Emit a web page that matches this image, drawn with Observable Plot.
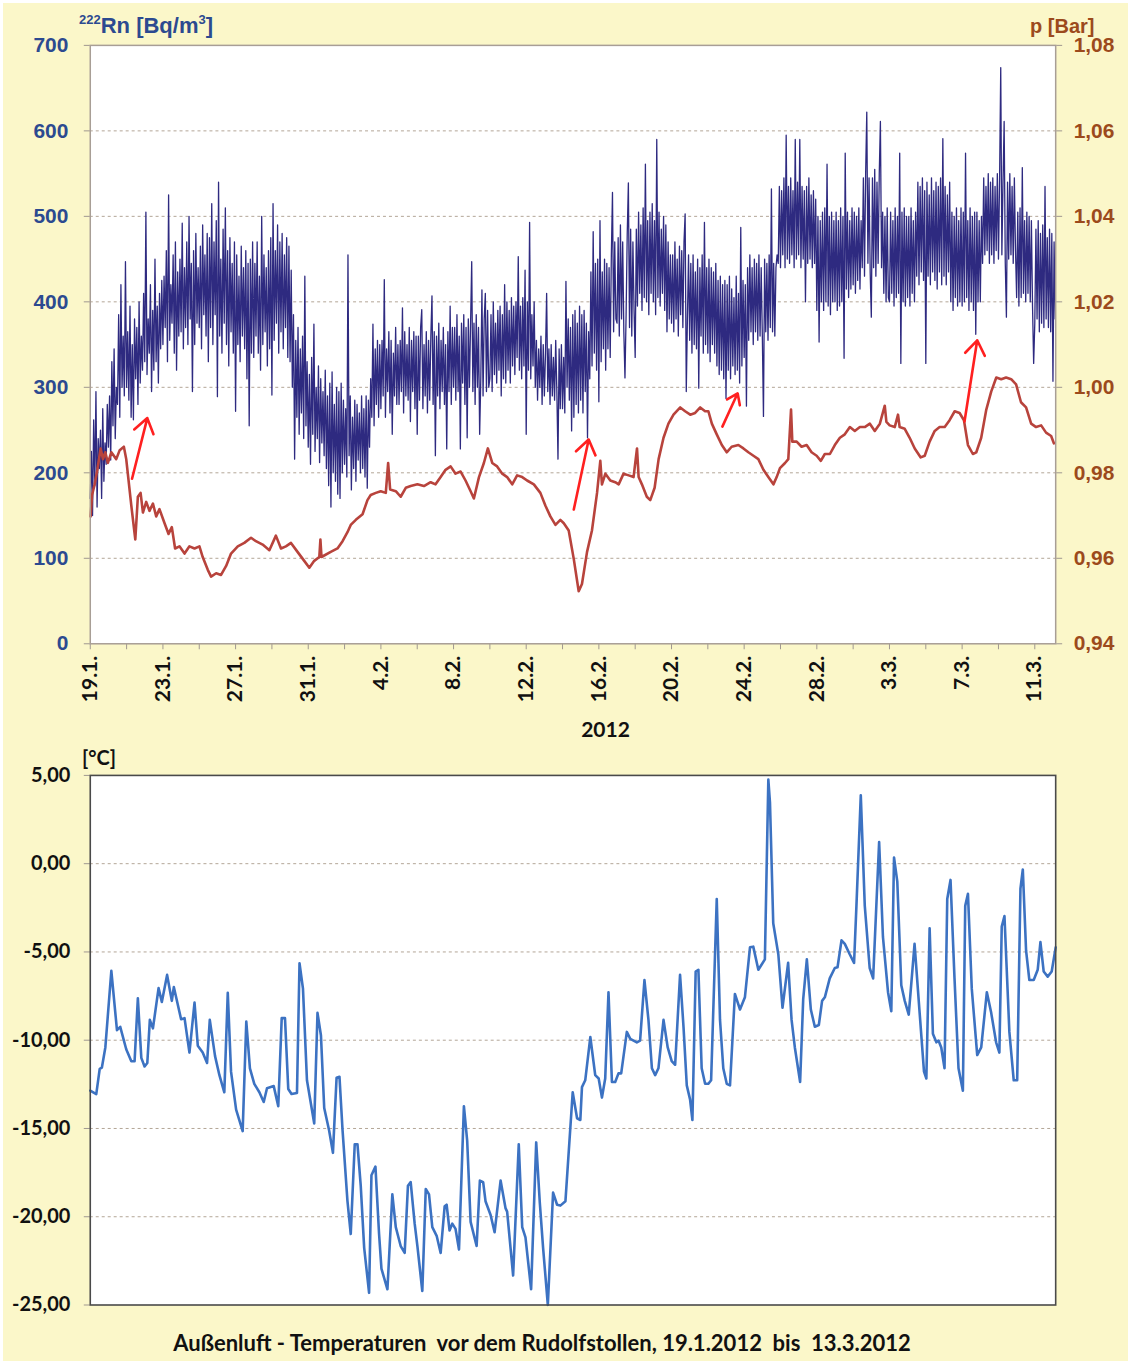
<!DOCTYPE html>
<html>
<head>
<meta charset="utf-8">
<script src="https://cdn.jsdelivr.net/npm/d3@7"></script>
<script src="https://cdn.jsdelivr.net/npm/@observablehq/plot@0.6"></script>
<style>
  html, body { margin: 0; padding: 0; background: #ffffff; }
  #wrap { position: absolute; left: 3px; top: 3px; width: 1125px; height: 1358px; background: #fbf7c9; overflow: hidden; }
  .abs { position: absolute; white-space: nowrap; }
  #topChart, #bottomChart { position: absolute; left: -3px; }
  #topChart { top: -3px; }
  #bottomChart { top: 742px; }
</style>
</head>
<body>
<div id="wrap">
  <div id="topChart"></div>
  <div id="bottomChart"></div>
  <div class="abs" style="left:76px;top:10px;font:bold 22px 'Liberation Sans',Arial,sans-serif;color:#2c4a90;"><span style="font-size:13px;position:relative;top:-9px;">222</span>Rn [Bq/m<span style="font-size:13px;position:relative;top:-9px;">3</span>]</div>
  <div class="abs" style="left:1027px;top:12px;font:bold 20px 'Liberation Sans',Arial,sans-serif;color:#9c4a1c;">p [Bar]</div>
  <div class="abs" style="left:0;width:1205px;text-align:center;top:713px;font:bold 21px Lato,sans-serif;color:#111;">2012</div>
  <div class="abs" style="left:79px;top:742px;font:bold 20px Lato,sans-serif;color:#111;">[°C]</div>
  <div class="abs" style="left:0;width:1078px;text-align:center;top:1326px;font:bold 22px Lato,sans-serif;color:#111;">Außenluft - Temperaturen&nbsp; vor dem Rudolfstollen, 19.1.2012&nbsp; bis&nbsp; 13.3.2012</div>
</div>
<script>
// ---------------- DATA ----------------
// Radon 222Rn [Bq/m3], one value every 1.5 hours starting 19.1.2012 00:00 (16 per day)
const rnStepHours = 1.5;
const rnValues = [
  170,225,150,262,185,295,160,240,205,250,170,275,190,235,210,280,
  230,290,215,330,255,345,240,300,280,385,265,420,300,360,290,447,
  300,365,285,395,265,350,262,380,310,370,280,400,305,360,320,410,
  330,505,315,380,340,420,295,390,320,450,330,395,305,410,345,425,
  350,430,370,460,330,525,355,420,375,455,340,470,320,435,360,450,
  365,492,345,440,370,470,350,500,380,445,295,460,350,480,375,440,
  370,465,345,490,385,455,360,480,330,475,370,515,350,470,385,495,
  289,540,360,450,340,485,375,510,350,460,325,475,365,445,340,470,
  272,455,350,430,330,465,360,440,345,460,310,445,255,450,340,470,
  335,445,360,470,340,430,320,500,350,455,365,440,325,460,345,475,
  291,515,355,460,375,490,340,470,365,480,345,455,370,475,335,465,
  330,437,300,385,216,355,265,370,245,345,270,360,240,430,255,330,
  230,315,210,335,245,374,225,300,240,325,212,310,235,295,220,320,
  205,290,185,305,160,318,200,280,190,300,175,295,170,305,200,285,
  210,275,195,455,220,290,180,265,205,285,190,280,215,270,200,290,
  205,275,195,290,182,285,230,310,265,374,255,345,280,355,265,350,
  275,355,290,426,265,345,295,365,270,355,245,340,290,370,280,350,
  280,355,295,393,270,365,290,350,285,370,260,355,295,365,275,360,
  245,360,285,370,391,275,350,290,365,270,355,285,360,407,280,365,
  220,360,290,375,275,355,295,370,280,350,228,365,295,395,280,370,
  300,370,285,385,295,360,228,375,305,385,280,370,241,380,300,375,
  447,295,375,280,385,300,370,245,310,414,290,380,410,295,390,300,
  310,385,295,400,315,375,305,390,320,395,290,385,310,420,305,400,
  320,390,305,405,325,395,315,400,335,453,320,395,310,405,325,437,
  245,400,320,493,310,385,325,400,300,355,285,345,300,360,280,350,
  290,340,410,295,345,280,350,290,335,285,355,295,216,345,275,350,
  275,335,270,424,300,380,285,370,249,385,265,390,280,375,270,395,
  285,385,270,390,295,375,241,365,310,435,325,482,340,445,320,450,
  283,495,330,435,345,450,320,445,345,440,335,455,528,365,470,380,
  375,475,360,490,380,470,365,311,385,480,539,370,485,360,470,390,
  335,485,395,505,410,490,390,510,405,561,400,495,385,505,410,515,
  400,495,385,590,405,505,395,485,410,500,390,490,365,470,380,455,
  375,455,365,470,380,450,360,465,385,460,370,470,503,295,380,455,
  355,445,340,455,350,435,345,450,299,440,360,455,340,493,350,440,
  340,450,330,440,350,435,340,445,325,425,315,430,320,420,310,425,
  287,420,320,430,310,415,325,405,315,430,320,410,305,487,325,425,
  335,420,278,440,355,455,365,440,350,450,365,445,355,455,360,440,
  360,266,450,365,445,355,455,370,532,365,445,360,440,455,445,535,
  440,530,455,545,440,595,450,535,445,545,455,530,440,590,450,540,
  455,590,440,535,450,530,400,535,445,545,450,525,440,530,445,520,
  390,500,353,495,400,505,390,510,400,561,395,500,385,505,400,495,
  400,505,390,495,395,510,400,500,334,574,415,505,405,495,415,510,
  420,505,410,500,425,510,415,495,440,545,430,550,622,445,545,435,
  382,545,440,555,430,540,445,550,611,440,505,410,500,400,510,405,
  400,505,410,495,395,510,405,500,410,574,328,505,400,510,395,500,
  405,500,395,510,410,495,400,505,430,540,420,535,435,545,425,530,
  328,540,430,525,420,545,435,530,425,540,415,535,435,545,420,591,
  430,535,420,525,435,540,400,505,390,500,405,510,395,495,400,510,
  395,505,400,574,405,495,390,510,400,500,390,505,362,505,400,495,
  400,500,445,545,455,535,460,550,445,540,455,545,445,535,460,550,
  450,545,674,455,540,611,445,382,540,450,550,455,535,445,545,460,
  405,505,395,510,405,557,410,495,400,505,410,500,400,495,395,328,
  375,485,380,495,365,480,375,490,370,535,380,475,370,485,365,480,
  307,470,380
];

// Air pressure p [Bar]: days after 19.1.2012 00:00 and values
const pDay = [0.02,0.10,0.24,0.39,0.57,0.70,0.83,0.97,1.16,1.43,1.62,1.85,1.98,2.26,2.48,2.62,2.77,2.90,3.08,3.26,3.45,3.63,3.81,4.09,4.31,4.49,4.67,4.91,5.19,5.46,5.74,6.01,6.19,6.47,6.65,6.93,7.20,7.48,7.75,8.12,8.48,8.85,9.12,9.49,9.86,10.22,10.50,10.77,11.05,11.41,11.78,12.06,12.33,12.61,12.67,12.73,13.24,13.61,13.89,14.16,14.34,14.62,14.99,15.26,15.44,15.72,15.99,16.27,16.40,16.51,16.82,17.09,17.37,17.64,18.01,18.37,18.74,19.01,19.29,19.56,19.84,20.11,20.39,20.66,20.94,21.12,21.40,21.67,21.89,22.13,22.40,22.68,22.95,23.23,23.50,23.78,24.05,24.42,24.78,25.06,25.33,25.61,25.88,26.07,26.34,
  26.62,26.89,27.07,27.35,27.62,27.90,28.08,28.17,28.36,28.63,28.90,29.09,29.36,29.64,29.91,30.10,30.19,30.37,30.64,30.83,31.07,31.29,31.56,31.83,32.11,32.48,32.75,33.03,33.30,33.58,33.85,34.03,34.22,34.49,34.77,35.04,35.31,35.68,35.96,36.23,36.51,36.78,37.06,37.33,37.61,37.79,37.97,38.25,38.43,38.58,38.65,38.89,39.16,39.44,39.71,39.99,40.22,40.44,40.72,40.99,41.27,41.54,41.82,42.09,42.37,42.64,42.92,43.19,43.47,43.74,43.83,44.01,44.29,44.47,44.56,44.84,45.11,45.39,45.72,45.94,46.21,46.49,46.76,47.04,47.31,47.59,47.86,48.10,48.32,48.59,48.78,49.05,49.33,49.60,49.88,50.15,50.42,50.70,50.97,51.24,51.52,51.80,52.07,52.35,52.62,52.90,53.05];
const pBar = [0.9698,0.9748,0.9773,0.9807,0.9857,0.9832,0.9848,0.9823,0.9848,0.9832,0.9853,0.9861,0.9832,0.9723,0.9644,0.9744,0.9753,0.9707,0.9732,0.9711,0.9728,0.9698,0.9715,0.9682,0.9657,0.9673,0.9623,0.9628,0.9611,0.9628,0.9623,0.9628,0.9603,0.9573,0.9557,0.9565,0.9561,0.9582,0.9611,0.9628,0.9636,0.9648,0.9640,0.9632,0.9619,0.9653,0.9623,0.9628,0.9636,0.9615,0.9594,0.9578,0.9594,0.9603,0.9644,0.9603,0.9615,0.9623,0.9640,0.9661,0.9678,0.9690,0.9703,0.9736,0.9748,0.9753,0.9757,0.9753,0.9823,0.9761,0.9757,0.9744,0.9765,0.9769,0.9773,0.9769,0.9778,0.9773,0.9790,0.9807,0.9815,0.9798,0.9803,0.9782,0.9757,0.9740,0.9790,0.9823,0.9857,0.9823,0.9815,0.9798,0.9790,0.9773,0.9794,0.9790,0.9782,0.9773,0.9753,0.9723,0.9698,0.9678,0.9690,0.9682,0.9665,
  0.9598,0.9523,0.9540,0.9615,0.9665,0.9753,0.9828,0.9773,0.9798,0.9782,0.9778,0.9773,0.9798,0.9794,0.9790,0.9857,0.9790,0.9773,0.9744,0.9736,0.9765,0.9832,0.9882,0.9915,0.9936,0.9953,0.9944,0.9936,0.9940,0.9953,0.9944,0.9944,0.9915,0.9890,0.9865,0.9848,0.9861,0.9865,0.9857,0.9848,0.9840,0.9832,0.9807,0.9790,0.9773,0.9790,0.9811,0.9823,0.9832,0.9948,0.9873,0.9873,0.9861,0.9865,0.9848,0.9840,0.9828,0.9844,0.9844,0.9865,0.9882,0.9890,0.9907,0.9898,0.9907,0.9907,0.9915,0.9898,0.9915,0.9957,0.9919,0.9911,0.9907,0.9936,0.9907,0.9903,0.9882,0.9857,0.9836,0.9840,0.9873,0.9898,0.9907,0.9907,0.9923,0.9944,0.9940,0.9923,0.9865,0.9844,0.9848,0.9882,0.9948,0.9990,1.0023,1.0019,1.0023,1.0019,1.0007,0.9965,0.9953,0.9915,0.9907,0.9911,0.9894,0.9886,0.9869];

// Outside air temperature [°C]: days after 19.1.2012 00:00 and values
const tDay = [0.00,0.33,0.52,0.64,0.83,1.16,1.47,1.65,1.98,2.26,2.44,2.62,2.81,2.99,3.14,3.28,3.45,3.76,3.94,4.23,4.49,4.60,5.00,5.19,5.46,5.74,5.92,6.19,6.43,6.58,6.87,7.11,7.38,7.57,7.75,8.03,8.39,8.59,8.79,9.03,9.31,9.55,9.73,10.10,10.35,10.54,10.72,10.90,11.08,11.38,11.52,11.71,11.93,12.33,12.51,12.70,12.88,13.15,13.36,13.56,13.72,13.89,14.16,14.34,14.56,14.71,14.89,15.08,15.35,15.48,15.70,15.90,16.03,16.36,16.63,16.82,17.09,17.31,17.49,17.64,17.86,18.01,18.28,18.47,18.65,18.83,19.07,19.29,19.51,19.62,19.78,19.93,20.11,20.30,20.57,20.75,20.94,21.27,21.45,21.63,21.76,22.04,22.26,22.59,22.86,22.95,23.28,23.59,23.78,23.96,24.27,24.55,24.75,24.93,25.19,25.48,25.70,25.88,26.16,
  26.56,26.80,26.98,27.07,27.25,27.53,27.80,27.99,28.17,28.35,28.53,28.72,28.90,29.08,29.23,29.54,29.73,30.09,30.27,30.51,30.73,30.92,31.10,31.28,31.56,31.79,32.01,32.20,32.47,32.66,32.84,33.02,33.15,33.33,33.48,33.66,33.85,34.03,34.18,34.49,34.67,34.85,35.04,35.22,35.49,35.77,36.04,36.32,36.50,36.78,37.14,37.33,37.42,37.60,37.88,38.11,38.42,38.61,38.79,39.08,39.25,39.45,39.67,39.89,40.11,40.29,40.44,40.71,40.99,41.14,41.36,41.54,41.81,42.05,42.18,42.42,42.64,42.91,43.10,43.43,43.64,43.92,44.10,44.25,44.43,44.65,44.84,45.06,45.38,45.66,45.90,46.03,46.21,46.39,46.58,46.70,46.85,47.03,47.18,47.36,47.58,47.80,48.04,48.17,48.32,48.53,48.83,49.05,49.36,49.60,49.87,50.05,50.18,50.33,50.60,50.84,51.03,51.21,51.34,51.52,51.70,51.94,52.16,52.31,52.49,52.71,52.93,53.15];
const tC = [-12.86,-13.05,-11.62,-11.55,-10.41,-6.07,-9.43,-9.24,-10.51,-11.19,-11.19,-7.63,-11.00,-11.49,-11.29,-8.85,-9.33,-7.05,-7.83,-6.30,-7.77,-6.99,-8.81,-8.75,-10.70,-7.87,-10.31,-10.70,-11.29,-8.85,-10.90,-11.98,-12.95,-7.32,-11.78,-13.93,-15.15,-8.94,-11.59,-12.47,-12.95,-13.50,-12.72,-12.60,-13.74,-8.75,-8.75,-12.76,-13.05,-12.99,-5.64,-7.08,-12.27,-14.72,-8.45,-9.73,-13.84,-15.11,-16.38,-12.13,-12.07,-15.11,-19.12,-20.98,-15.89,-15.89,-18.24,-21.76,-24.31,-17.65,-17.16,-20.98,-22.94,-24.11,-18.73,-20.59,-21.66,-22.05,-18.24,-18.04,-20.39,-21.66,-24.21,-18.43,-18.73,-20.59,-21.08,-22.05,-19.41,-19.32,-20.78,-20.39,-20.69,-21.86,-13.74,-15.69,-20.29,-21.66,-17.95,-18.04,-19.12,-19.90,-20.88,-17.95,-19.51,-19.71,-23.33,-15.89,-20.59,-21.17,-24.11,-15.79,-19.22,-21.76,-24.99,-18.63,-19.32,-19.37,-19.12,
  -12.95,-14.42,-14.52,-12.66,-12.27,-9.82,-11.98,-12.17,-13.25,-12.17,-7.28,-12.37,-12.37,-11.88,-11.88,-9.53,-9.92,-10.12,-10.02,-6.59,-8.85,-11.59,-11.98,-11.59,-8.85,-10.41,-11.19,-11.39,-6.30,-9.24,-12.56,-13.35,-14.52,-6.11,-6.01,-11.59,-12.47,-12.47,-12.27,-2.00,-8.85,-11.59,-12.47,-12.56,-7.38,-8.26,-7.57,-4.74,-4.70,-6.01,-5.42,4.76,3.48,-3.37,-5.13,-8.16,-5.62,-8.85,-10.41,-12.37,-7.67,-5.42,-8.26,-9.24,-9.14,-7.77,-7.57,-6.50,-5.91,-5.87,-4.34,-4.54,-5.13,-5.62,-2.39,3.87,-2.39,-5.91,-6.50,1.23,-4.15,-7.28,-8.36,0.35,-1.02,-6.89,-7.77,-8.55,-4.54,-8.45,-11.78,-12.17,-3.66,-9.63,-10.12,-10.02,-10.41,-11.59,-2.00,-0.92,-6.50,-11.59,-12.86,-2.39,-1.70,-7.08,-10.84,-10.41,-7.28,-8.45,-10.12,-10.70,-3.56,-2.97,-9.53,-12.27,-12.27,-1.41,-0.33,-4.93,-6.59,-6.59,-6.01,-4.44,-6.11,-6.40,-6.11,-4.74];

// Red arrows (annotation): tail/head in days and Rn units
const arrowTailDay = [2.30, 26.62, 34.80, 48.13];
const arrowTailRn  = [193, 157, 254, 260];
const arrowHeadDay = [3.14, 27.44, 35.64, 48.83];
const arrowHeadRn  = [264, 239, 293, 355];

// Axes
const dateTickDay = [0, 4, 8, 12, 16, 20, 24, 28, 32, 36, 40, 44, 48, 52];
const dateTickLabels = ["19.1.", "23.1.", "27.1.", "31.1.", "4.2.", "8.2.", "12.2.", "16.2.", "20.2.", "24.2.", "28.2.", "3.3.", "7.3.", "11.3."];
const rnTicks = [0, 100, 200, 300, 400, 500, 600, 700];
const pTicks = [0.94, 0.96, 0.98, 1.00, 1.02, 1.04, 1.06, 1.08];
const tTicks = [5, 0, -5, -10, -15, -20, -25];
const xEndDay = 53.15;

// ---------------- HELPERS ----------------
const t0 = Date.UTC(2012, 0, 19);
const toDate = d => new Date(t0 + d * 864e5);
const pMin = pTicks[0], pMax = pTicks[pTicks.length - 1], rnMax = rnTicks[rnTicks.length - 1];
const pToY = p => (p - pMin) / (pMax - pMin) * rnMax;
const yToP = y => pMin + y / rnMax * (pMax - pMin);
const comma = (v, n) => v.toFixed(n).replace(".", ",");

const rnData = rnValues.map((v, i) => ({date: toDate(Math.min(i * rnStepHours / 24, xEndDay)), rn: v}));
const pData = pDay.map((d, i) => ({date: toDate(d), p: pBar[i]}));
const tData = tDay.map((d, i) => ({date: toDate(Math.min(d, xEndDay)), t: tC[i]}));
const arrows = arrowTailDay.map((d, i) => ({x1: toDate(d), y1: arrowTailRn[i], x2: toDate(arrowHeadDay[i]), y2: arrowHeadRn[i]}));
const dateTicks = dateTickDay.map(toDate);
const minorTicks = d3.range(0, xEndDay, 2).map(toDate);
const xDomain = [toDate(0), toDate(xEndDay)];

const blue = "#2c4a90", brown = "#9c4a1c";
const gridStyle = {stroke: "#b3a697", strokeDasharray: "3,3", strokeWidth: 1};

// ---------------- TOP CHART ----------------
const topChart = Plot.plot({
  width: 1131, height: 720,
  marginLeft: 90, marginRight: 73, marginTop: 45, marginBottom: 75,
  style: {background: "transparent", overflow: "visible", fontFamily: "'Liberation Sans', Arial, sans-serif"},
  x: {type: "utc", domain: xDomain, label: null},
  y: {domain: [0, rnMax], label: null},
  marks: [
    Plot.frame({fill: "white", stroke: "none"}),
    Plot.ruleY(rnTicks.filter(v => v > 0 && v < rnMax), gridStyle),
    Plot.axisY(rnTicks, {anchor: "left", tickSize: 6, tickFormat: () => "", stroke: "#a09890", label: null}),
    Plot.axisY(rnTicks, {anchor: "left", tickSize: 0, tickPadding: 22, color: blue, fontSize: 21, fontWeight: "bold", fontFamily: "'Liberation Sans', Arial, sans-serif", label: null}),
    Plot.axisY(pTicks.map(pToY), {anchor: "right", tickSize: 6, tickFormat: () => "", stroke: "#a09890", label: null}),
    Plot.axisY(pTicks.map(pToY), {anchor: "right", tickSize: 0, tickPadding: 18, tickFormat: v => comma(yToP(v), 2), color: brown, fontSize: 21, fontWeight: "bold", fontFamily: "'Liberation Sans', Arial, sans-serif", label: null}),
    Plot.axisX(minorTicks, {tickSize: 6, tickFormat: () => "", stroke: "#a09890", label: null}),
    Plot.axisX(dateTicks, {tickSize: 0, tickPadding: 12, tickRotate: -90, tickFormat: d => dateTickLabels[dateTicks.findIndex(t => +t === +d)], color: "#111", fontSize: 21, fontWeight: "bold", fontFamily: "Lato, sans-serif", label: null}),
    Plot.line(rnData, {x: "date", y: "rn", stroke: "#2e2a80", strokeWidth: 1.3}),
    Plot.line(pData, {x: "date", y: d => pToY(d.p), stroke: "#b8433c", strokeWidth: 2.6}),
    Plot.arrow(arrows, {x1: "x1", y1: "y1", x2: "x2", y2: "y2", stroke: "#ff2020", strokeWidth: 2.6, headLength: 10, headAngle: 70}),
    Plot.frame({stroke: "#a89e96", strokeWidth: 1.5})
  ]
});
document.getElementById("topChart").append(topChart);

// ---------------- BOTTOM CHART ----------------
const bottomChart = Plot.plot({
  width: 1131, height: 575,
  marginLeft: 90, marginRight: 73, marginTop: 30, marginBottom: 14,
  style: {background: "transparent", overflow: "visible", fontFamily: "Lato, sans-serif"},
  x: {type: "utc", domain: xDomain, axis: null, label: null},
  y: {domain: [tTicks[tTicks.length - 1], tTicks[0]], label: null},
  marks: [
    Plot.frame({fill: "white", stroke: "none"}),
    Plot.ruleY(tTicks.filter(v => v < tTicks[0] && v > tTicks[tTicks.length - 1]), gridStyle),
    Plot.axisY(tTicks, {anchor: "left", tickSize: 6, tickFormat: () => "", stroke: "#a09890", label: null}),
    Plot.axisY(tTicks, {anchor: "left", tickSize: 0, tickPadding: 20, tickFormat: v => comma(v, 2), color: "#111", fontSize: 20, fontWeight: "bold", fontFamily: "Lato, sans-serif", label: null}),
    Plot.line(tData, {x: "date", y: "t", stroke: "#3c72c2", strokeWidth: 2.6}),
    Plot.frame({stroke: "#4a4a4a", strokeWidth: 1.6})
  ]
});
document.getElementById("bottomChart").append(bottomChart);
</script>
</body>
</html>
